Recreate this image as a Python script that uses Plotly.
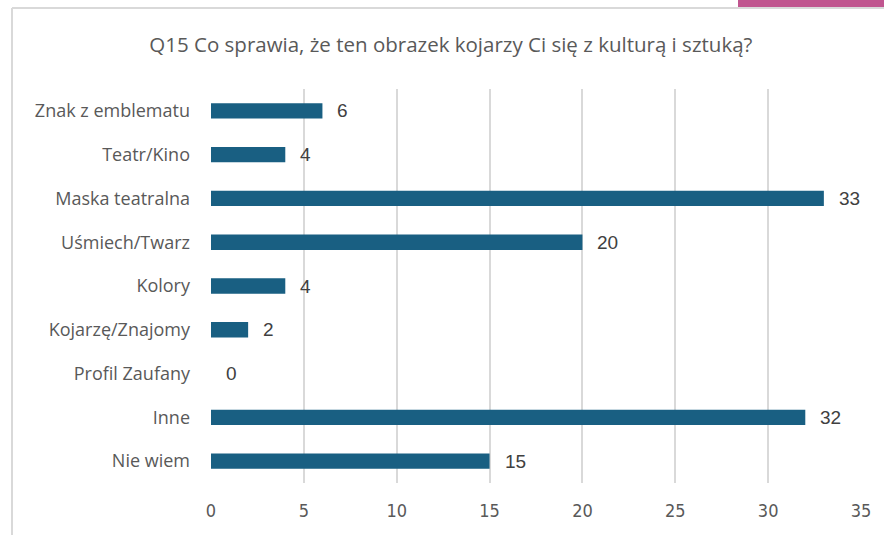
import plotly.graph_objects as go

categories = ['Znak z emblematu', 'Teatr/Kino', 'Maska teatralna', 'Uśmiech/Twarz',
              'Kolory', 'Kojarzę/Znajomy', 'Profil Zaufany', 'Inne', 'Nie wiem']
counts = [6, 4, 33, 20, 4, 2, 0, 32, 15]
x_ticks = [0, 5, 10, 15, 20, 25, 30, 35]

W, H = 884, 535
L, R, T, B = 211, 23, 89, 52


def px_x(p):
    return (p - L) / (W - L - R)


def px_y(p):
    return (H - B - p) / (H - T - B)


fig = go.Figure()
fig.add_trace(go.Bar(
    x=counts,
    y=categories,
    orientation='h',
    width=0.35,
    marker=dict(color='#195F82', line=dict(width=0)),
    hoverinfo='x+y',
))

# value labels next to the bars
for c, v in zip(categories, counts):
    fig.add_annotation(x=v, y=c, text=str(v), showarrow=False,
                       xanchor='left', xshift=13,
                       font=dict(family='Liberation Sans, Arial', size=19, color='#404040'))

fig.update_layout(
    width=W, height=H,
    margin=dict(l=L, r=R, t=T, b=B),
    paper_bgcolor='white',
    plot_bgcolor='white',
    showlegend=False,
    title=dict(text='Q15 Co sprawia, że ten obrazek kojarzy Ci się z kulturą i sztuką?',
               x=0.51, xanchor='center', y=1 - 45 / H, yanchor='middle',
               font=dict(family='Open Sans', size=20.5, color='#595959')),
    xaxis=dict(range=[0, 35], tickvals=x_ticks, showgrid=True, gridcolor='#D9D9D9', gridwidth=1.5,
               zeroline=False, showline=False, ticks='', ticklabelstandoff=15,
               tickfont=dict(family='Liberation Sans Narrow, DejaVu Sans Condensed, Roboto',
                             size=18, color='#595959')),
    yaxis=dict(autorange='reversed', showgrid=False, zeroline=False, showline=False,
               ticks='', ticklabelstandoff=20,
               tickfont=dict(family='Open Sans', size=18, color='#595959')),
    shapes=[
        # chart frame (top and left edges visible in the crop)
        dict(type='line', xref='paper', yref='paper', x0=px_x(12), x1=px_x(884),
             y0=px_y(8), y1=px_y(8), line=dict(color='#D9D9D9', width=2)),
        dict(type='line', xref='paper', yref='paper', x0=px_x(12), x1=px_x(12),
             y0=px_y(8), y1=px_y(535), line=dict(color='#D9D9D9', width=2)),
        # pink tab at top right
        dict(type='rect', xref='paper', yref='paper', x0=px_x(738), x1=px_x(884),
             y0=px_y(7), y1=px_y(0), fillcolor='#C0558F', line=dict(width=0)),
    ],
)

fig.write_html('out.html', config={'displayModeBar': False},
               post_script="document.body.style.margin='0px';")
